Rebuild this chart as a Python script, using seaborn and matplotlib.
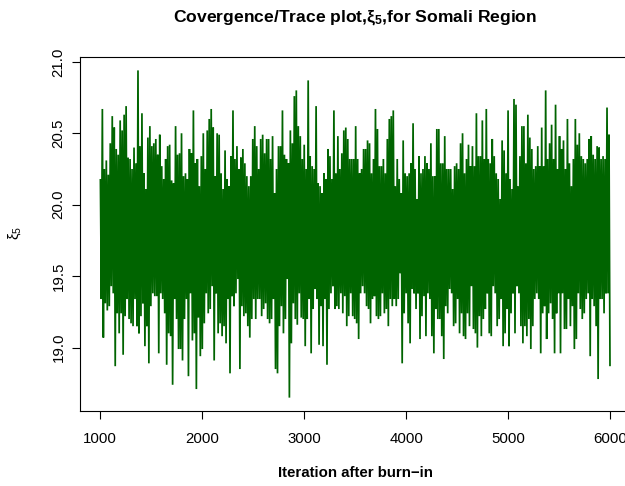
import numpy as np
import pandas as pd
import matplotlib
matplotlib.use("Agg")
import matplotlib.pyplot as plt
import seaborn as sns

# MCMC trace of xi_5 after burn-in: iterations 1001..6000
first_iter, last_iter = 1001, 6000

# upper and lower excursions of the chain, in order along the iterations
trace_high = [
    20.18, 20.67, 20.25, 20.31, 20.21, 20.43, 20.62, 20.54, 20.39, 20.35,
    20.59, 20.52, 20.63, 20.69, 20.33, 20.32, 20.25, 20.40, 20.29, 20.94,
    20.41, 20.64, 20.22, 20.11, 20.47, 20.55, 20.41, 20.43, 20.46, 20.35,
    20.49, 20.27, 20.18, 20.32, 20.41, 20.42, 20.17, 20.15, 20.55, 20.35,
    20.36, 20.50,
    20.20, 20.22, 20.18, 20.39, 20.36, 20.66, 20.29, 20.32, 20.13, 20.34,
    20.50, 20.25, 20.52, 20.60, 20.67, 20.54, 20.20, 20.50, 20.49, 20.22,
    20.11, 20.38, 20.18, 20.13, 20.34, 20.66, 20.32, 20.41, 20.25, 20.33,
    20.39, 20.29, 20.20, 20.13, 20.20, 20.46, 20.55, 20.41, 20.25, 20.46,
    20.49, 20.36, 20.46,
    20.46, 20.32, 20.48, 20.08, 20.25, 20.41, 20.41, 20.66, 20.35, 20.32,
    20.29, 20.52, 20.43, 20.76, 20.80, 20.55, 20.48, 20.32, 20.42, 20.25,
    20.87, 20.34, 20.27, 20.25, 20.69, 20.15, 20.13, 20.08, 20.22, 20.18,
    20.39, 20.34, 20.18, 20.66, 20.22, 20.48, 20.25, 20.36, 20.52, 20.54,
    20.46, 20.32, 20.32,
    20.32, 20.55, 20.32, 20.22, 20.25, 20.39, 20.39, 20.45, 20.43, 20.22,
    20.32, 20.67, 20.53, 20.27, 20.27, 20.32, 20.22, 20.46, 20.60, 20.62,
    20.66, 20.13, 20.32, 20.18, 20.08, 20.45, 20.22, 20.20, 20.22, 20.29,
    20.57, 20.25, 20.04, 20.34, 20.22, 20.25, 20.34, 20.29, 20.25, 20.43,
    20.20, 20.20, 20.53,
    20.53, 20.29, 20.29, 20.48, 20.25, 20.25, 20.25, 20.11, 20.27, 20.29,
    20.25, 20.43, 20.50, 20.22, 20.32, 20.42, 20.27, 20.41, 20.27, 20.64,
    20.34, 20.34, 20.59, 20.32, 20.67, 20.32, 20.29, 20.46, 20.34, 20.22,
    20.18, 20.04, 20.45, 20.38, 20.22, 20.66, 20.18, 20.11, 20.74, 20.70,
    20.13, 20.34, 20.55,
    20.55, 20.29, 20.63, 20.47, 20.39, 20.25, 20.27, 20.41, 20.27, 20.54,
    20.27, 20.80, 20.32, 20.43, 20.56, 20.32, 20.70, 20.25, 20.48, 20.39,
    20.45, 20.25, 20.60, 20.29, 20.13, 20.32, 20.60, 20.42, 20.50, 20.34,
    20.32, 20.29, 20.32, 20.46, 20.48, 20.35, 20.32, 20.41, 20.40, 20.32,
    20.34, 20.32, 20.68, 20.49,
]
trace_low = [
    19.34, 19.07, 19.31, 19.26, 19.29, 19.43, 19.38, 18.87, 19.24, 19.10,
    19.24, 18.95, 19.22, 19.34, 19.20, 19.17, 19.15, 19.34, 19.15, 19.10,
    19.22, 19.31, 19.01, 19.15, 18.89, 19.29, 19.38, 19.36, 19.36, 18.96,
    19.38, 19.34, 19.24, 18.88, 19.10, 19.08, 18.74, 19.34, 19.20, 18.99,
    18.99, 18.91,
    19.20, 19.34, 18.80, 19.38, 19.05, 19.10, 18.71, 19.21, 18.94, 18.99,
    19.17, 19.38, 19.24, 19.27, 19.43, 18.91, 19.38, 19.10, 19.17, 19.08,
    19.15, 19.03, 19.34, 18.82, 19.36, 19.29, 19.38, 19.48, 18.85, 19.29,
    19.22, 19.24, 19.15, 19.07, 19.20, 19.34, 19.20, 19.34, 19.34, 19.22,
    19.27, 19.31, 19.20,
    19.17, 19.20, 19.34, 18.85, 18.82, 19.15, 19.29, 19.10, 19.20, 19.48,
    18.65, 19.03, 19.31, 19.20, 19.16, 19.38, 19.21, 19.20, 19.01, 19.20,
    19.34, 18.96, 19.27, 19.41, 19.34, 19.02, 19.29, 19.01, 19.34, 18.88,
    19.27, 19.38, 19.43, 19.27, 19.29, 19.27, 19.38, 19.24, 19.36, 19.15,
    19.22, 19.38, 19.22,
    19.20, 19.17, 19.06, 19.38, 19.43, 19.38, 19.29, 19.27, 19.17, 19.34,
    19.36, 19.22, 19.20, 19.22, 19.38, 19.24, 19.27, 19.15, 19.34, 19.29,
    19.34, 19.29, 19.34, 19.52, 18.89, 19.24, 19.38, 19.17, 19.03, 19.41,
    19.38, 19.27, 19.38, 19.06, 19.22, 19.36, 19.08, 19.38, 19.34, 19.08,
    18.96, 19.27, 19.20,
    19.20, 19.08, 18.92, 19.29, 19.24, 19.41, 19.38, 19.15, 19.17, 19.34,
    19.10, 19.24, 19.08, 19.06, 19.24, 19.15, 19.43, 19.13, 19.10, 19.00,
    19.22, 19.08, 19.20, 19.27, 19.38, 19.10, 19.08, 19.43, 19.38, 19.15,
    19.20, 19.34, 19.01, 19.10, 19.27, 19.01, 19.24, 19.38, 19.10, 19.43,
    19.38, 19.15, 19.03,
    19.15, 19.08, 19.20, 18.99, 19.15, 19.34, 19.38, 19.34, 18.96, 19.24,
    19.29, 19.06, 19.24, 19.31, 19.20, 18.96, 19.24, 19.38, 18.96, 19.38,
    19.13, 19.13, 19.34, 19.15, 19.29, 18.99, 19.06, 19.38, 19.27, 19.20,
    19.24, 19.34, 19.38, 18.94, 19.34, 19.29, 19.15, 18.78, 19.34, 19.34,
    19.24, 19.38, 19.38, 18.87,
]

x_ticks = [1000, 2000, 3000, 4000, 5000, 6000]
y_ticks = [19.0, 19.5, 20.0, 20.5, 21.0]

values = np.column_stack([trace_high, trace_low]).ravel()
iteration = np.linspace(first_iter, last_iter, values.size)
df = pd.DataFrame({"iteration": iteration, "xi5": values})

sns.set_theme(style="ticks")
plt.rcParams["font.family"] = ["Liberation Sans", "DejaVu Sans"]
plt.rcParams["mathtext.fontset"] = "custom"
plt.rcParams["mathtext.rm"] = "Liberation Sans"
plt.rcParams["mathtext.it"] = "Liberation Sans"
plt.rcParams["mathtext.default"] = "regular"
plt.rcParams["text.color"] = "black"

fig = plt.figure(figsize=(6.25, 4.86), dpi=100)
ax = fig.add_axes([0.128, 0.1549, 0.8806, 0.7272])

sns.lineplot(data=df, x="iteration", y="xi5", color="#006400", lw=1.25,
             estimator=None, sort=False, ax=ax)
for ln in ax.lines:
    ln.set_solid_capstyle("butt")
    ln.set_solid_joinstyle("miter")

# R-style 4% axis padding
xr = last_iter - first_iter
ax.set_xlim(first_iter - 0.04 * xr, last_iter + 0.04 * xr)
ymin, ymax = values.min(), values.max()
yr = ymax - ymin
ax.set_ylim(ymin - 0.04 * yr, ymax + 0.04 * yr)

ax.set_xticks(x_ticks)
ax.set_xticklabels([str(t) for t in x_ticks])
ax.set_yticks(y_ticks)
ax.set_yticklabels([f"{t:.1f}" for t in y_ticks], rotation=90, va="center")

for s in ax.spines.values():
    s.set_linewidth(0.8)
    s.set_color("black")
ax.tick_params(axis="both", length=5.8, width=0.8, colors="black",
               labelcolor="black", labelsize=10.8)
ax.tick_params(axis="x", pad=9.5)
ax.tick_params(axis="y", pad=4.5)
ax.set_xlabel("")
ax.set_ylabel("")

fig.text(0.568, 1 - 18 / 486, r"Covergence/Trace plot,$\xi_5$,for Somali Region",
         ha="center", va="center", fontsize=12.6, fontweight="bold",
         color="black")
fig.text(0.568, 1 - 473 / 486, "Iteration after burn\u2212in",
         ha="center", va="center", fontsize=10.8, fontweight="bold",
         color="black")
fig.text(15 / 625, 1 - 233 / 486, r"$\xi_5$", ha="center", va="center",
         rotation=90, fontsize=10.8, color="black")

fig.savefig("out.png", dpi=100)
